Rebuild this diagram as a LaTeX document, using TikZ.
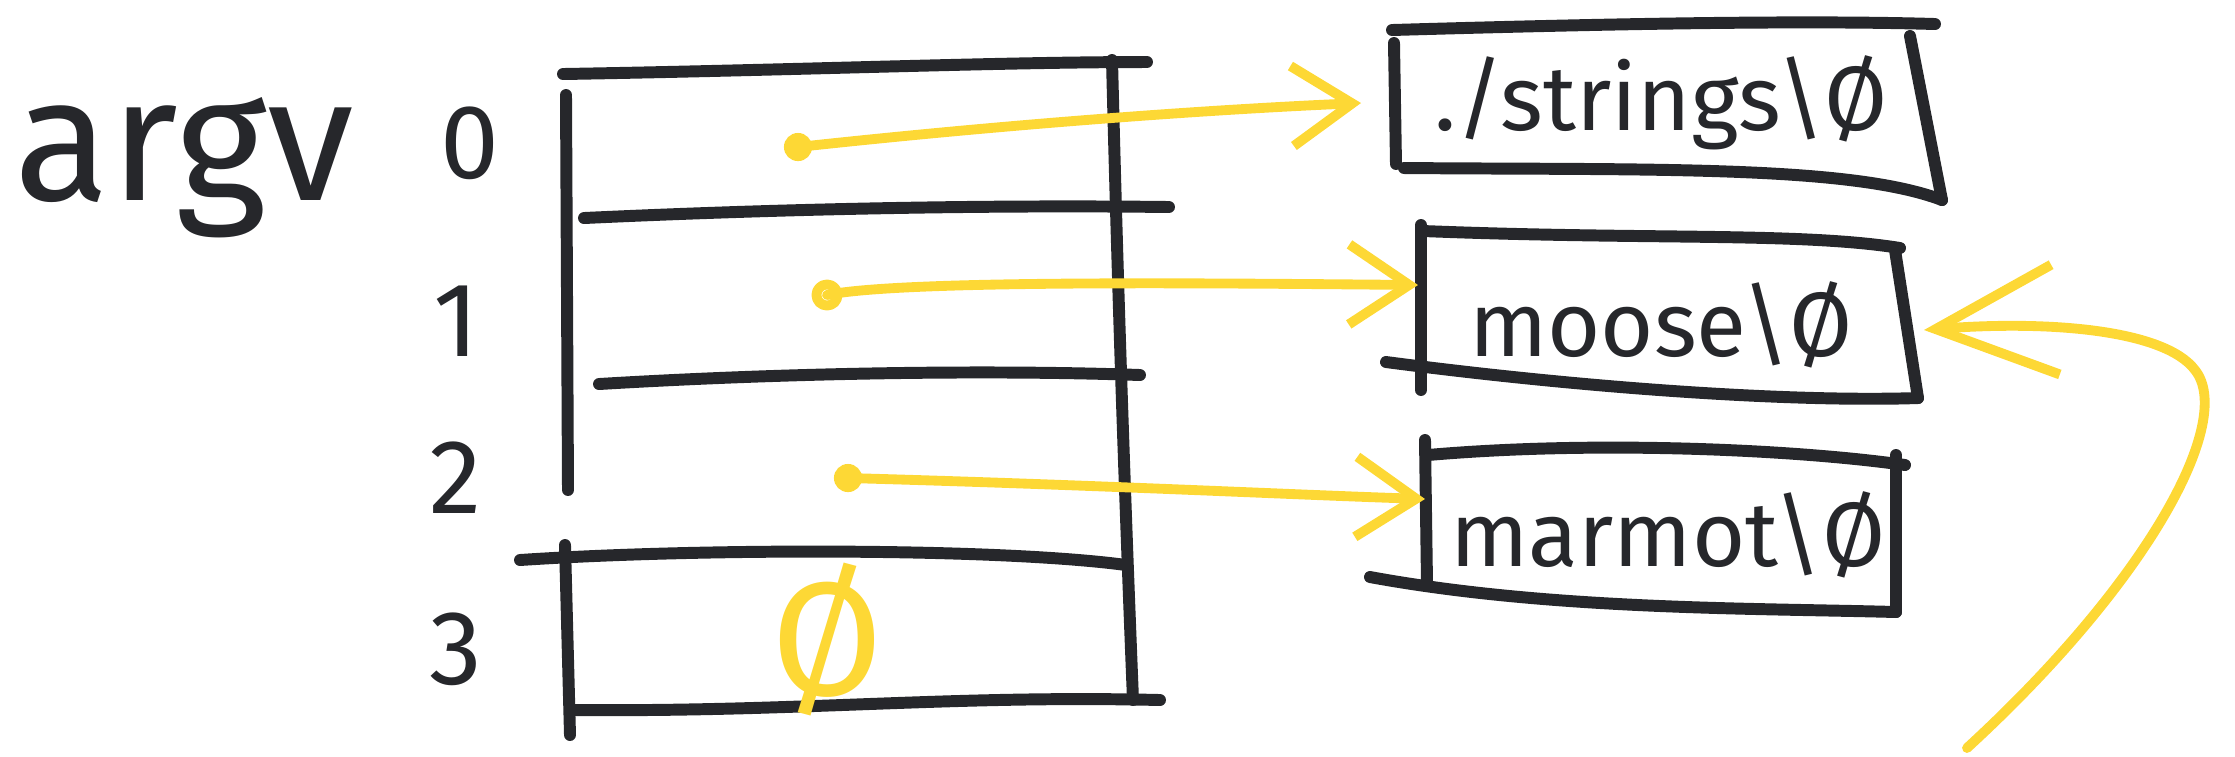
\documentclass[tikz,border=0pt]{standalone}
\usepackage{fontspec}
\setmainfont{Fira Sans}
\usetikzlibrary{arrows.meta}
\definecolor{ink}{HTML}{26272B}
\definecolor{marker}{HTML}{FDD835}
\tikzset{
    every picture/.style={line cap=round,line join=round},
    penline/.style={draw=ink,line width=3.4pt},
    hiline/.style={draw=marker,line width=2.8pt},
    pointer/.style={hiline,-{Straight Barb[length=6mm,width=8mm]}},
    backpointer/.style={hiline,-{Straight Barb[length=12mm,width=11mm]}},
    bigtext/.style={font=\fontsize{50}{50}\selectfont,text=ink,inner sep=0pt},
    cellidx/.style={font=\fontsize{30}{30}\selectfont,text=ink,inner sep=0pt},
    strtext/.style={font=\fontsize{26}{26}\selectfont,text=ink,inner sep=0pt},
    nulltext/.style={font=\fontsize{46}{46}\selectfont,text=marker,inner sep=0pt}
}
\begin{document}
\begin{tikzpicture}[x=0.01cm,y=-0.01cm]
  \useasboundingbox (0,0) rectangle (2235,756);
  % label and indices
  \node[bigtext,anchor=base west] (argv) at (14,200) {argv};
  \node[cellidx] (i0) at (470,143) {0};
  \node[cellidx] (i1) at (456,321) {1};
  \node[cellidx] (i2) at (456,478) {2};
  \node[cellidx] (i3) at (456,649) {3};
  % the argv array
  \draw[penline] (563,74) .. controls (800,70) and (1000,62) .. (1147,62);
  \draw[penline] (566,95) -- (568,490);
  \draw[penline] (584,218) .. controls (800,208) and (1000,205) .. (1169,207);
  \draw[penline] (599,384) .. controls (800,372) and (1000,370) .. (1140,375);
  \draw[penline] (520,560) .. controls (700,548) and (1000,548) .. (1126,565);
  \draw[penline] (1112,60) .. controls (1118,300) and (1125,500) .. (1133,700);
  \draw[penline] (572,710) .. controls (800,712) and (950,695) .. (1160,700);
  \draw[penline] (565,545) -- (570,735);
  \node[nulltext] (nul) at (827,640) {Ø};
  % the strings
  \draw[penline] (1392,30) .. controls (1600,24) and (1800,20) .. (1935,24);
  \draw[penline] (1394,43) -- (1396,164);
  \draw[penline] (1910,36) -- (1942,200);
  \draw[penline] (1404,168) .. controls (1650,170) and (1850,165) .. (1942,200);
  \node[strtext] (s0) at (1661,103) {./strings\textbackslash Ø};
  \draw[penline] (1423,231) .. controls (1650,240) and (1800,232) .. (1900,248);
  \draw[penline] (1421,225) -- (1421,390);
  \draw[penline] (1895,250) -- (1918,398);
  \draw[penline] (1386,362) .. controls (1600,390) and (1800,402) .. (1918,398);
  \node[strtext] (s1) at (1661,325) {moose\textbackslash Ø};
  \draw[penline] (1428,455) .. controls (1600,440) and (1800,450) .. (1905,465);
  \draw[penline] (1425,440) -- (1427,583);
  \draw[penline] (1896,455) -- (1896,612);
  \draw[penline] (1370,577) .. controls (1550,610) and (1750,608) .. (1896,612);
  \node[strtext] (s2) at (1668,535) {marmot\textbackslash Ø};
  % pointers
  \coordinate (p0) at (798,147);
  \coordinate (p1) at (827,295);
  \coordinate (p2) at (848,478);
  \coordinate (t0) at (1361,103);
  \coordinate (t1) at (1418,285);
  \coordinate (t2) at (1425,499);
  \coordinate (back) at (1967,748);
  \coordinate (tb) at (1924,330);
  \fill[marker] (p0) circle (4pt);
  \draw[hiline] (p1) circle (3pt);
  \fill[marker] (p2) circle (4pt);
  \draw[pointer] (p0) .. controls (1000,125) and (1200,110) .. (t0);
  \draw[pointer] (p1) .. controls (900,280) and (1200,283) .. (t1);
  \draw[pointer] (p2) .. controls (1100,485) and (1300,495) .. (t2);
  \draw[backpointer] (back) .. controls (2150,580) and (2235,420) .. (2195,370)
    .. controls (2165,330) and (2050,320) .. (tb);
\end{tikzpicture}
\end{document}
